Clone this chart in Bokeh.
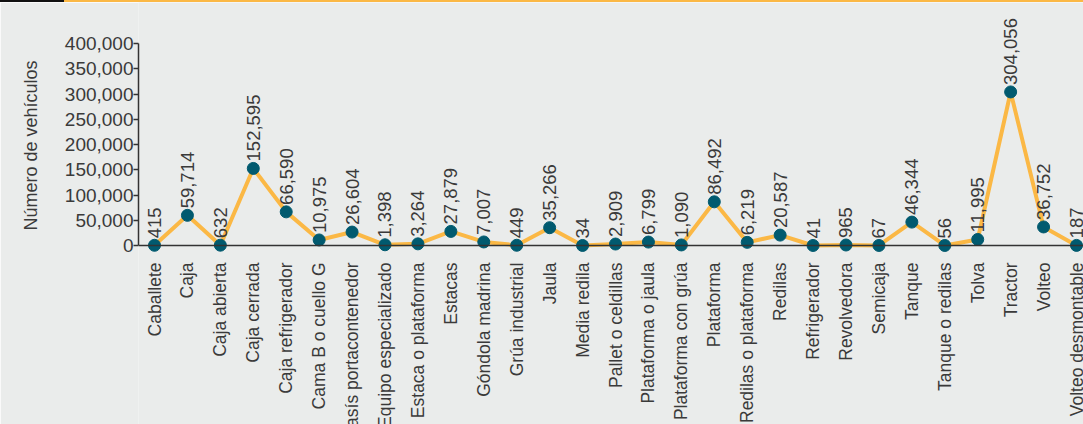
import math
from bokeh.plotting import figure
from bokeh.models import (ColumnDataSource, LabelSet, Range1d, FixedTicker,
                          NumeralTickFormatter, Span, Title, Div)
from bokeh.layouts import column
from bokeh.core.properties import value
from bokeh.embed import file_html
from bokeh.resources import INLINE

categories = ["Caballete", "Caja", "Caja abierta", "Caja cerrada", "Caja refrigerador",
              "Cama B o cuello G", "Chasís portacontenedor", "Equipo especializado",
              "Estaca o plataforma", "Estacas", "Góndola madrina", "Grúa industrial",
              "Jaula", "Media redila", "Pallet o celdillas", "Plataforma o jaula",
              "Plataforma con grúa", "Plataforma", "Redilas o plataforma", "Redilas",
              "Refrigerador", "Revolvedora", "Semicaja", "Tanque", "Tanque o redilas",
              "Tolva", "Tractor", "Volteo", "Volteo desmontable"]
values = [415, 59714, 632, 152595, 66590, 10975, 26604, 1398, 3264, 27879, 7007, 449,
          35266, 34, 2909, 6799, 1090, 86492, 6219, 20587, 41, 965, 67, 46344, 56,
          11995, 304056, 36752, 187]
y_ticks = [0, 50000, 100000, 150000, 200000, 250000, 300000, 350000, 400000]
y_title = "Número de vehículos"

FONT = "Liberation Sans"
TEXT = "#3a3a3a"
BG = "#EAECEB"
ORANGE = "#FBB845"
TEAL = "#015A6F"

W, H_PAGE, BAR = 1083, 424, 2
H = H_PAGE - BAR
left_b = 138
# pixel geometry of the value axis inside the figure canvas
y0_px, ytop_px = 243, 41
upp = (y_ticks[-1] - y_ticks[0]) / (y0_px - ytop_px)   # units per pixel
y_end = y_ticks[-1] + ytop_px * upp
y_start = -(H - y0_px) * upp

n = len(categories)
xs = list(range(n))
step_px = (1076 - 154) / (n - 1)
x_start = -(154 - left_b) / step_px
x_end = (W - 154) / step_px

p = figure(width=W, height=H, output_backend="svg", toolbar_location=None,
           x_axis_location=None, y_axis_location="left",
           x_range=Range1d(x_start, x_end), y_range=Range1d(y_start, y_end),
           min_border_left=left_b, min_border_right=0, min_border_top=0,
           min_border_bottom=0)
p.background_fill_color = BG
p.border_fill_color = BG
p.outline_line_color = None
p.grid.visible = False

ax = p.yaxis[0]
ax.bounds = (y_ticks[0], y_ticks[-1])
ax.ticker = FixedTicker(ticks=y_ticks)
ax.formatter = NumeralTickFormatter(format="0,0")
ax.minor_tick_line_color = None
ax.major_tick_in = 0
ax.major_tick_out = 5
ax.major_tick_line_color = "#333333"
ax.major_tick_line_width = 1.3
ax.axis_line_color = "#333333"
ax.axis_line_width = 1.5
ax.major_label_standoff = 0
ax.major_label_text_font = FONT
ax.major_label_text_font_size = "19px"
ax.major_label_text_color = TEXT

# axis title: bottom of text at ~y=230 on the page
p.add_layout(Title(text=y_title, align="left", vertical_align="top",
                   offset=H - 228, standoff=38,
                   text_font=FONT, text_font_size="18px", text_font_style="normal",
                   text_color=TEXT), "left")

p.add_layout(Span(location=0, dimension="width", line_color="#333333", line_width=1.3))

src = ColumnDataSource(dict(
    x=xs, y=values, cat=categories,
    lab=["{:,}".format(v) for v in values],
    ylab=[v + 7 * upp for v in values],
    ycat=[-17 * upp] * n,
))

p.line("x", "y", source=src, line_color=ORANGE, line_width=4, line_join="round")
p.scatter("x", "y", source=src, size=12, fill_color=TEAL, line_color=TEAL)

p.add_layout(LabelSet(x="x", y="ylab", text="lab", source=src, angle=math.pi / 2,
                      text_align="left", text_baseline="middle",
                      text_font=value(FONT), text_font_size=value("18.5px"),
                      text_color=TEXT))
p.add_layout(LabelSet(x="x", y="ycat", text="cat", source=src, angle=math.pi / 2,
                      text_align="right", text_baseline="middle",
                      text_font=value(FONT), text_font_size=value("17.5px"),
                      text_color=TEXT))

bar = Div(width=W, height=BAR, margin=0,
          styles={"background": "linear-gradient(90deg, #111111 0px, #111111 64px, "
                                + ORANGE + " 64px, " + ORANGE + " 100%)"})

layout = column(bar, p, spacing=0, margin=0)
open("out.html", "w").write(file_html(layout, INLINE))
